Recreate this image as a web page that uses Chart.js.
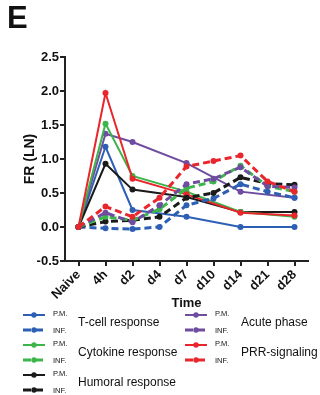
<!DOCTYPE html>
<html><head><meta charset="utf-8">
<script src="https://cdn.jsdelivr.net/npm/chart.js@4"></script>
<style>
html,body{margin:0;padding:0;background:#fff;}
#wrap{position:relative;width:320px;height:395px;overflow:hidden;font-family:"Liberation Sans",Arial,sans-serif;color:#111;}
#c{position:absolute;left:0;top:0;}
#letter{position:absolute;left:7px;top:2px;font-size:31px;font-weight:bold;line-height:1;}
.abs{position:absolute;white-space:nowrap;line-height:1;}
.tiny{font-size:7.5px;}
.name{font-size:12px;}
</style></head>
<body><div id="wrap">
<canvas id="c" width="320" height="315"></canvas>
<div id="letter">E</div>
<div id="legend"></div>
</div>
<script>
// ---- data ----
const categories = ['Naive','4h','d2','d4','d7','d10','d14','d21','d28'];
const yTicks = [-0.5, 0, 0.5, 1.0, 1.5, 2.0, 2.5];
const groups = ['T-cell response','Cytokine response','Humoral response','Acute phase','PRR-signaling'];
const pmLabel = 'P.M.';
const infLabel = 'INF.';
const xTitle = 'Time';
const yTitle = 'FR (LN)';

const tcellPM    = [0, 1.18, 0.25, null, 0.15, null, 0.00, null, 0.00];
const tcellINF   = [0, -0.02, -0.03, 0.00, 0.32, 0.42, 0.63, 0.52, 0.43];
const cytokinePM = [0, 1.52, 0.75, null, 0.52, null, 0.22, null, 0.15];
const cytokineINF= [0, 0.15, 0.10, 0.26, 0.57, 0.67, 0.90, 0.60, 0.52];
const humoralPM  = [0, 0.93, 0.55, null, 0.44, null, 0.22, null, 0.22];
const humoralINF = [0, 0.08, 0.10, 0.15, 0.43, 0.50, 0.73, 0.64, 0.62];
const acutePM    = [0, 1.37, 1.25, null, 0.94, null, 0.52, null, 0.43];
const acuteINF   = [0, 0.21, 0.07, 0.32, 0.63, 0.71, 0.88, 0.60, 0.58];
const prrPM      = [0, 1.97, 0.71, null, 0.48, null, 0.21, null, 0.17];
const prrINF     = [0, 0.30, 0.15, 0.43, 0.89, 0.97, 1.05, 0.67, 0.52];

// ---- styles ----
const colors = ['#2D5FB5','#3CB54A','#1A1A1A','#6E4C9F','#E8262B'];
const pmSeries  = [tcellPM, cytokinePM, humoralPM, acutePM, prrPM];
const infSeries = [tcellINF, cytokineINF, humoralINF, acuteINF, prrINF];
const FONT = '"Liberation Sans", Arial, sans-serif';

function solid(i){
  return {data: pmSeries[i], borderColor: colors[i], backgroundColor: colors[i],
    borderWidth: 2, pointRadius: 3, pointBorderWidth: 0, pointBackgroundColor: colors[i],
    spanGaps: true, tension: 0, fill: false};
}
function dashed(i){
  return {data: infSeries[i], borderColor: colors[i], backgroundColor: colors[i],
    borderWidth: 3, borderDash: [7,4], pointRadius: 3, pointBorderWidth: 0, pointBackgroundColor: colors[i],
    spanGaps: true, tension: 0, fill: false};
}
// first dataset is drawn on top
const datasets = [dashed(4), dashed(3), dashed(1), dashed(2), dashed(0),
                  solid(4), solid(1), solid(2), solid(3), solid(0)];

new Chart(document.getElementById('c'), {
  type: 'line',
  data: {labels: categories, datasets},
  options: {
    responsive: false, animation: false,
    layout: {padding: {left: 18, top: 57, right: 12, bottom: 0}},
    plugins: {legend: {display: false}, tooltip: {enabled: false}},
    scales: {
      x: {
        offset: true,
        grid: {offset: false, drawOnChartArea: false, drawTicks: true, tickLength: 5, color: '#222', lineWidth: 2},
        border: {display: true, color: '#222', width: 2},
        ticks: {minRotation: 45, maxRotation: 45, autoSkip: false, padding: 1, color: '#111',
                font: {family: FONT, size: 13, weight: 'bold'}},
        title: {display: true, text: xTitle, color: '#111', padding: {top: 0, bottom: 4},
                font: {family: FONT, size: 13, weight: 'bold'}},
        afterFit(s){ s.height = 54; }
      },
      y: {
        min: -0.5, max: 2.5,
        afterBuildTicks(s){ s.ticks = yTicks.map(v => ({value: v})); },
        grid: {drawOnChartArea: false, drawTicks: true, tickLength: 5, color: '#222', lineWidth: 2},
        border: {display: true, color: '#222', width: 2},
        ticks: {padding: 1, color: '#111', font: {family: FONT, size: 13, weight: 'bold'},
                callback: v => Number(v).toFixed(1)},
        title: {display: true, text: yTitle, color: '#111', padding: {top: 4, bottom: 4},
                font: {family: FONT, size: 14, weight: 'bold'}},
        afterFit(s){ s.width = 47; }
      }
    }
  }
});

// ---- legend (HTML) ----
const leg = document.getElementById('legend');
groups.forEach((g, i) => {
  const col = i < 3 ? 0 : 1, row = i % 3;
  const x0 = col ? 185 : 23;
  const ySolid = 315 + row * 30, yDash = ySolid + 15;
  const c = colors[i];
  const svg = `<svg class="abs" style="left:${x0}px;top:${ySolid-4}px" width="26" height="23">
    <line x1="0" y1="4" x2="22" y2="4" stroke="${c}" stroke-width="2"/>
    <circle cx="11" cy="4" r="2.7" fill="${c}"/>
    <line x1="0" y1="19" x2="22" y2="19" stroke="${c}" stroke-width="3" stroke-dasharray="8,4"/>
    <circle cx="11" cy="19" r="2.7" fill="${c}"/></svg>`;
  leg.insertAdjacentHTML('beforeend', svg);
  leg.insertAdjacentHTML('beforeend',
    `<div class="abs tiny" style="left:${x0+30}px;top:${ySolid-5}px">${pmLabel}</div>
     <div class="abs tiny" style="left:${x0+30}px;top:${yDash-3}px">${infLabel}</div>
     <div class="abs name" style="left:${col?241:78}px;top:${ySolid+1}px">${g}</div>`);
});
</script>
</body></html>
